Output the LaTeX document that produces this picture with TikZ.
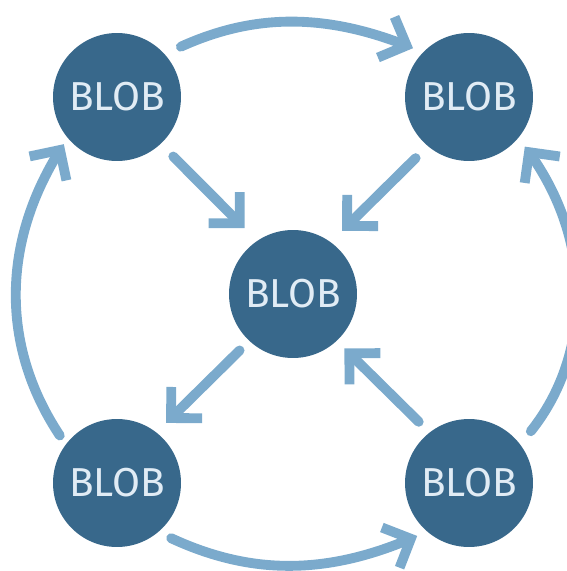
\documentclass[tikz,border=0pt]{standalone}
\usepackage{fontspec}
\setsansfont{Fira Sans}
\usetikzlibrary{arrows.meta,bending}
\definecolor{blobblue}{HTML}{38688B}
\definecolor{linkblue}{HTML}{7BAACC}
\definecolor{blobtext}{HTML}{E1ECF5}

\begin{document}
\begin{tikzpicture}[x=0.02cm,y=-0.02cm,
  blob/.style={circle,fill=blobblue,minimum size=2.56cm,inner sep=0pt,text=blobtext,
    font=\sffamily\fontsize{23}{26}\selectfont},
  link/.style={draw=linkblue,line width=5.6pt,line cap=round,
    -{Straight Barb[length=12.5pt,width=25pt]}}]
\useasboundingbox (0,0) rectangle (567,571);
% the five blobs
\node[blob] (tl) at (117,97) {BLOB};
\node[blob] (tr) at (469,97) {BLOB};
\node[blob] (c) at (293,294) {BLOB};
\node[blob] (bl) at (117,483) {BLOB};
\node[blob] (br) at (469,483) {BLOB};
% round the outside
\draw[link,shorten <=10pt,shorten >=6pt] (tl.42) to[bend left=24] (tr.136);
\draw[link,shorten <=8pt,shorten >=6pt] (bl.-50) to[bend right=25] (br.-131);
\draw[link,shorten <=6pt,shorten >=4pt] (bl.143) to[bend left=34] (tl.220);
\draw[link,shorten <=9.5pt,shorten >=6pt] (br.37) to[bend right=39] (tr.-40);
% to and from the middle
\draw[link,shorten <=10pt,shorten >=10pt] (tl.-47.5) -- (c.124);
\draw[link,shorten <=9.6pt,shorten >=9pt] (tr.-130.6) -- (c.54);
\draw[link,shorten <=7.6pt,shorten >=7.6pt] (c.-133.7) -- (bl.52);
\draw[link,shorten <=8.5pt,shorten >=6pt] (br.128.7) -- (c.-47);
\end{tikzpicture}
\end{document}
